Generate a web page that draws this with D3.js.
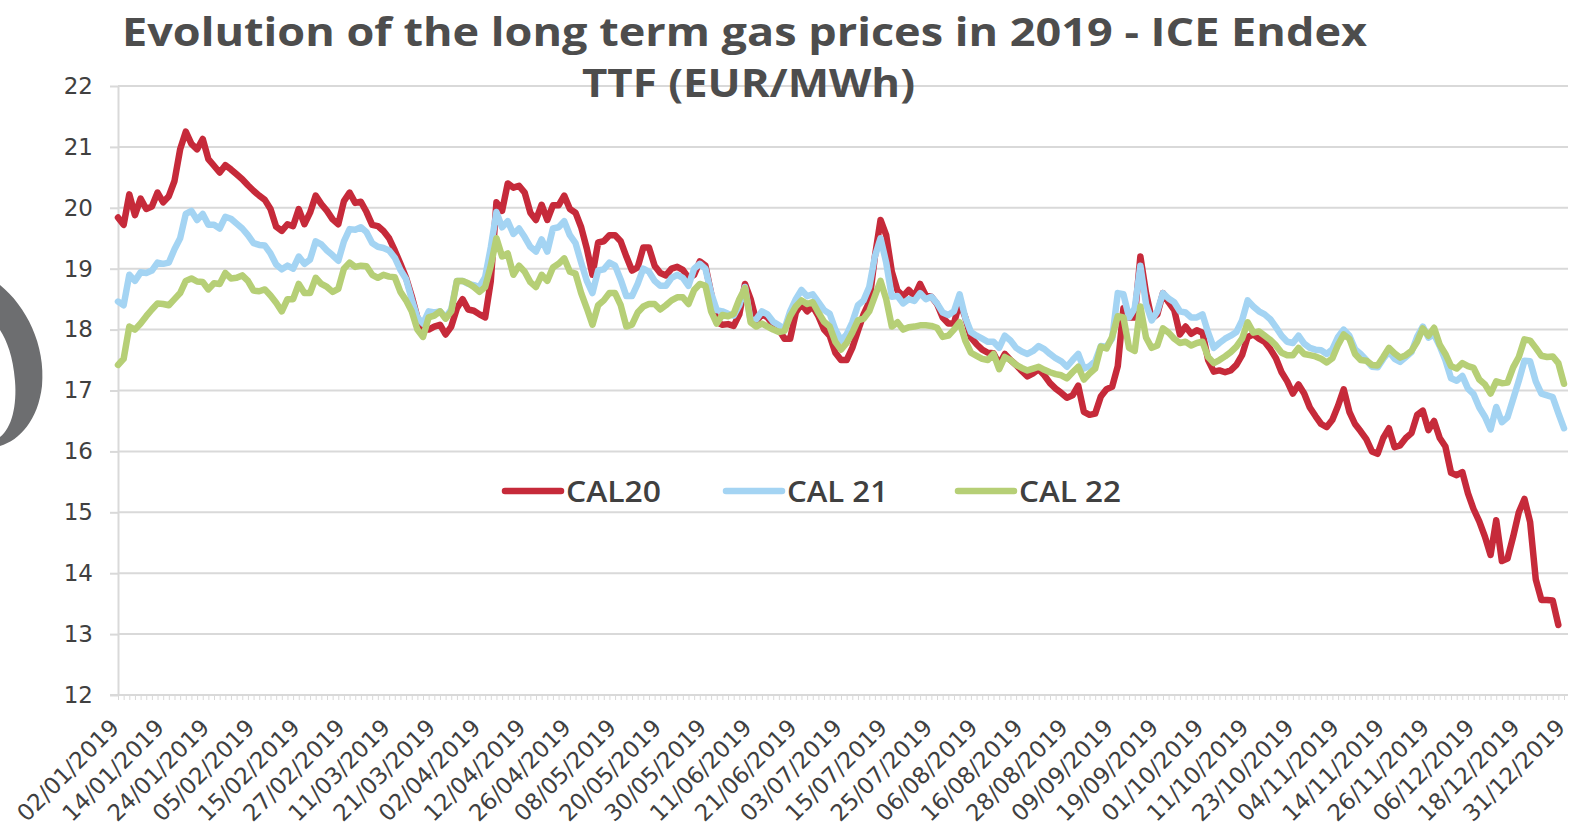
<!DOCTYPE html>
<html>
<head>
<meta charset="utf-8">
<script src="https://cdn.jsdelivr.net/npm/d3@7"></script>
<style>
  body { margin: 0; background: #fff; }
  svg { display: block; }
</style>
</head>
<body>
<svg id="chart" width="1571" height="829"></svg>
<script>
// trading days not quoted (besides weekends)
const holidays = ["01/01/2019", "19/04/2019", "22/04/2019", "25/12/2019"];

const tickLabels = ["02/01/2019","14/01/2019","24/01/2019","05/02/2019","15/02/2019","27/02/2019",
  "11/03/2019","21/03/2019","02/04/2019","12/04/2019","26/04/2019","08/05/2019","20/05/2019",
  "30/05/2019","11/06/2019","21/06/2019","03/07/2019","15/07/2019","25/07/2019","06/08/2019",
  "16/08/2019","28/08/2019","09/09/2019","19/09/2019","01/10/2019","11/10/2019","23/10/2019",
  "04/11/2019","14/11/2019","26/11/2019","06/12/2019","18/12/2019","31/12/2019"];

const yTicks = [12, 13, 14, 15, 16, 17, 18, 19, 20, 21, 22];

const seriesNames = ["CAL20", "CAL 21", "CAL 22"];

const cal20 = [
  19.84,19.72,20.22,19.88,20.15,19.98,20.02,20.25,20.09,20.19,
  20.44,20.96,21.25,21.05,20.96,21.13,20.80,20.69,20.58,20.70,
  20.63,20.55,20.47,20.37,20.28,20.20,20.13,19.98,19.69,19.62,
  19.73,19.70,19.98,19.73,19.92,20.20,20.06,19.95,19.81,19.73,
  20.11,20.25,20.08,20.10,19.93,19.72,19.70,19.62,19.50,19.30,
  19.08,18.85,18.55,18.20,18.00,18.00,18.05,18.08,17.92,18.05,
  18.35,18.50,18.33,18.31,18.25,18.20,18.80,20.09,19.95,20.40,
  20.33,20.36,20.25,19.92,19.80,20.05,19.80,20.04,20.04,20.20,
  19.98,19.92,19.68,19.33,18.90,19.43,19.45,19.55,19.55,19.45,
  19.20,18.97,19.02,19.35,19.35,19.05,18.93,18.89,19.00,19.03,
  18.98,18.85,18.90,19.12,19.05,18.60,18.12,18.08,18.09,18.06,
  18.25,18.75,18.50,18.14,18.25,18.20,18.08,18.00,17.85,17.85,
  18.28,18.42,18.30,18.38,18.22,18.00,17.90,17.62,17.50,17.50,
  17.70,17.98,18.25,18.45,19.20,19.80,19.55,18.95,18.64,18.55,
  18.65,18.55,18.75,18.56,18.54,18.42,18.20,18.10,18.10,18.45,
  18.20,17.87,17.76,17.67,17.62,17.61,17.43,17.60,17.50,17.42,
  17.32,17.23,17.28,17.35,17.25,17.12,17.03,16.96,16.88,16.92,
  17.08,16.65,16.60,16.62,16.90,17.02,17.06,17.40,18.35,18.20,
  18.20,19.20,18.60,18.18,18.25,18.60,18.45,18.32,17.92,18.05,
  17.93,17.99,17.95,17.50,17.31,17.33,17.30,17.33,17.42,17.58,
  17.88,17.92,17.85,17.80,17.68,17.53,17.30,17.15,16.95,17.10,
  16.95,16.72,16.58,16.45,16.40,16.52,16.75,17.02,16.65,16.45,
  16.33,16.20,16.00,15.96,16.22,16.38,16.07,16.10,16.22,16.30,
  16.60,16.67,16.35,16.50,16.22,16.08,15.65,15.61,15.66,15.31,
  15.05,14.85,14.60,14.30,14.87,14.20,14.24,14.60,15.00,15.22,
  14.84,13.90,13.56,13.56,13.55,13.15
];

const cal21 = [
  18.46,18.40,18.90,18.80,18.94,18.93,18.97,19.10,19.08,19.10,
  19.32,19.50,19.90,19.95,19.80,19.90,19.72,19.72,19.66,19.85,
  19.82,19.74,19.66,19.55,19.42,19.39,19.38,19.25,19.07,18.99,
  19.05,19.00,19.20,19.08,19.15,19.45,19.40,19.30,19.22,19.13,
  19.45,19.65,19.64,19.68,19.60,19.42,19.36,19.34,19.30,19.18,
  18.98,18.83,18.50,18.20,18.10,18.30,18.28,18.30,18.20,18.33,
  18.80,18.80,18.75,18.73,18.70,18.86,19.35,19.93,19.68,19.78,
  19.57,19.66,19.52,19.36,19.28,19.48,19.28,19.66,19.68,19.78,
  19.55,19.42,19.10,18.80,18.60,18.97,18.99,19.10,19.05,18.82,
  18.55,18.55,18.75,19.00,18.95,18.80,18.72,18.72,18.85,18.90,
  18.85,18.72,19.00,19.08,19.00,18.60,18.32,18.30,18.26,18.23,
  18.40,18.70,18.15,18.17,18.30,18.25,18.13,18.07,18.01,18.30,
  18.50,18.65,18.55,18.58,18.45,18.32,18.26,18.00,17.82,17.92,
  18.12,18.40,18.48,18.70,19.20,19.50,19.10,18.54,18.55,18.43,
  18.50,18.47,18.60,18.50,18.54,18.43,18.28,18.24,18.30,18.58,
  18.20,17.96,17.90,17.85,17.80,17.80,17.70,17.90,17.82,17.70,
  17.64,17.60,17.65,17.73,17.68,17.60,17.53,17.48,17.39,17.50,
  17.60,17.36,17.40,17.48,17.73,17.72,17.85,18.60,18.58,18.20,
  18.35,19.05,18.42,18.15,18.30,18.60,18.51,18.45,18.30,18.28,
  18.20,18.20,18.25,17.95,17.70,17.78,17.85,17.90,17.96,18.15,
  18.48,18.38,18.30,18.25,18.17,18.04,17.90,17.80,17.78,17.90,
  17.77,17.70,17.67,17.66,17.60,17.68,17.88,18.00,17.90,17.68,
  17.60,17.50,17.39,17.38,17.52,17.64,17.52,17.47,17.55,17.63,
  17.88,18.05,17.87,17.92,17.73,17.50,17.20,17.16,17.24,17.03,
  16.94,16.72,16.57,16.36,16.73,16.48,16.56,16.86,17.16,17.49,
  17.48,17.15,16.95,16.92,16.89,16.63,16.38
];

const cal22 = [
  17.42,17.52,18.05,18.00,18.10,18.22,18.33,18.43,18.42,18.40,
  18.50,18.60,18.80,18.84,18.79,18.78,18.66,18.76,18.75,18.93,
  18.84,18.85,18.89,18.80,18.64,18.63,18.66,18.56,18.44,18.30,
  18.50,18.50,18.75,18.60,18.60,18.85,18.75,18.70,18.62,18.67,
  19.00,19.10,19.03,19.05,19.04,18.90,18.85,18.90,18.87,18.86,
  18.62,18.48,18.30,18.00,17.88,18.20,18.23,18.30,18.18,18.30,
  18.80,18.80,18.76,18.70,18.62,18.70,19.05,19.50,19.20,19.25,
  18.90,19.05,18.95,18.78,18.70,18.90,18.80,19.02,19.08,19.17,
  18.95,18.92,18.60,18.35,18.08,18.40,18.48,18.60,18.60,18.40,
  18.05,18.08,18.28,18.38,18.42,18.42,18.33,18.40,18.48,18.53,
  18.53,18.42,18.65,18.75,18.72,18.30,18.10,18.24,18.22,18.26,
  18.50,18.68,18.12,18.05,18.10,18.05,18.00,17.96,17.98,18.22,
  18.38,18.48,18.42,18.45,18.28,18.13,18.05,17.80,17.67,17.78,
  17.95,18.15,18.18,18.30,18.55,18.80,18.50,18.05,18.12,18.00,
  18.04,18.05,18.07,18.07,18.06,18.03,17.88,17.90,18.00,18.12,
  17.82,17.62,17.57,17.52,17.50,17.60,17.35,17.55,17.50,17.42,
  17.37,17.33,17.36,17.39,17.34,17.30,17.27,17.25,17.20,17.30,
  17.39,17.18,17.28,17.36,17.72,17.69,17.88,18.22,18.20,17.70,
  17.65,18.38,17.87,17.70,17.74,18.02,17.95,17.85,17.78,17.80,
  17.74,17.78,17.80,17.55,17.45,17.50,17.56,17.63,17.72,17.85,
  18.12,17.95,17.97,17.90,17.83,17.74,17.62,17.58,17.58,17.70,
  17.60,17.58,17.56,17.52,17.46,17.53,17.75,17.92,17.85,17.60,
  17.50,17.49,17.42,17.41,17.55,17.70,17.61,17.54,17.58,17.65,
  17.80,18.02,17.90,18.03,17.75,17.60,17.40,17.36,17.45,17.40,
  17.37,17.18,17.10,16.95,17.15,17.12,17.13,17.38,17.55,17.84,
  17.82,17.70,17.57,17.55,17.56,17.45,17.11
];

const colors = ["#c62a3a", "#a4d4f3", "#b6cf76"];

// trading days of 2019 -> category axis
const fmt = d3.timeFormat("%d/%m/%Y");
const categories = d3.timeDay.range(new Date(2019, 0, 1), new Date(2020, 0, 1))
  .filter(d => d.getDay() !== 0 && d.getDay() !== 6)
  .map(fmt)
  .filter(s => !holidays.includes(s));

const svg = d3.select("#chart");
const plotLeft = 118, plotRight = 1564, plotTop = 86, plotBottom = 695;

const x = d3.scalePoint().domain(categories).range([plotLeft, plotRight]);
const y = d3.scaleLinear().domain([12, 22]).range([plotBottom, plotTop]);

const gridColor = "#d9d9d9";
const textColor = "#404040";

// logo fragment on the left edge
svg.append("path")
  .attr("d", "M0,285 C26,306 46,345 42,386 C38,420 20,440 0,446 L0,437 C12,428 17,405 15,381 C13,356 7,341 0,330 Z")
  .attr("fill", "#6d6e70");

// horizontal gridlines
svg.append("g")
  .selectAll("line")
  .data(yTicks.filter(t => t > 12))
  .enter()
  .append("line")
  .attr("x1", plotLeft)
  .attr("x2", 1568)
  .attr("y1", d => y(d))
  .attr("y2", d => y(d))
  .attr("stroke", gridColor)
  .attr("stroke-width", 2);

// y axis
const yAxis = svg.append("g")
  .attr("transform", "translate(" + plotLeft + ",0)")
  .call(d3.axisLeft(y).tickValues(yTicks).tickSize(8).tickSizeOuter(0).tickPadding(17));
yAxis.selectAll("path, line").attr("stroke", gridColor).attr("stroke-width", 2);
yAxis.selectAll("text")
  .attr("fill", textColor)
  .style("font-family", "DejaVu Sans")
  .style("font-size", "23px");

// x axis: a small tick per trading day
const xMinor = svg.append("g")
  .attr("transform", "translate(0," + plotBottom + ")")
  .call(d3.axisBottom(x).tickValues(categories).tickSize(5).tickSizeOuter(0).tickFormat(""));
xMinor.select(".domain").remove();
xMinor.selectAll("line").attr("stroke", gridColor).attr("stroke-width", 1);

svg.append("line")
  .attr("x1", 110).attr("x2", 1568)
  .attr("y1", plotBottom).attr("y2", plotBottom)
  .attr("stroke", gridColor).attr("stroke-width", 2);

// x labels, every 8th trading day
const xAxis = svg.append("g")
  .attr("transform", "translate(0," + plotBottom + ")")
  .call(d3.axisBottom(x).tickValues(tickLabels).tickSize(0));
xAxis.select(".domain").remove();
xAxis.selectAll("text")
  .attr("x", 0).attr("y", 0).attr("dy", 0)
  .attr("transform", "translate(2,34) rotate(-45)")
  .style("text-anchor", "end")
  .attr("fill", textColor)
  .style("font-family", "DejaVu Sans")
  .style("font-size", "23px");

// series
const line = d3.line()
  .x((d, i) => x(categories[i]))
  .y(d => y(d));

[cal20, cal21, cal22].forEach((s, k) => {
  svg.append("path")
    .datum(s)
    .attr("d", line)
    .attr("fill", "none")
    .attr("stroke", colors[k])
    .attr("stroke-width", 6.5)
    .attr("stroke-linejoin", "round")
    .attr("stroke-linecap", "round");
});

// legend
const legendX = [505, 726, 958];
const legendW = [95, 101, 102];
const legend = svg.append("g");
seriesNames.forEach((name, k) => {
  legend.append("line")
    .attr("x1", legendX[k]).attr("x2", legendX[k] + 56)
    .attr("y1", 491).attr("y2", 491)
    .attr("stroke", colors[k])
    .attr("stroke-width", 6.5)
    .attr("stroke-linecap", "round");
  legend.append("text")
    .attr("x", legendX[k] + 61)
    .attr("y", 502)
    .attr("textLength", legendW[k])
    .attr("lengthAdjust", "spacingAndGlyphs")
    .attr("fill", textColor)
    .style("font-family", "Open Sans")
    .style("font-weight", 600)
    .style("font-size", "29px")
    .text(name);
});

// title
const title = svg.append("g")
  .attr("fill", "#4d4d4d")
  .style("font-family", "Open Sans")
  .style("font-weight", 700)
  .style("font-size", "40px");
title.append("text")
  .attr("x", 122).attr("y", 46)
  .attr("textLength", 1245)
  .attr("lengthAdjust", "spacingAndGlyphs")
  .text("Evolution of the long term gas prices in 2019 - ICE Endex");
title.append("text")
  .attr("x", 582).attr("y", 97)
  .attr("textLength", 333)
  .attr("lengthAdjust", "spacingAndGlyphs")
  .text("TTF (EUR/MWh)");
</script>
</body>
</html>
